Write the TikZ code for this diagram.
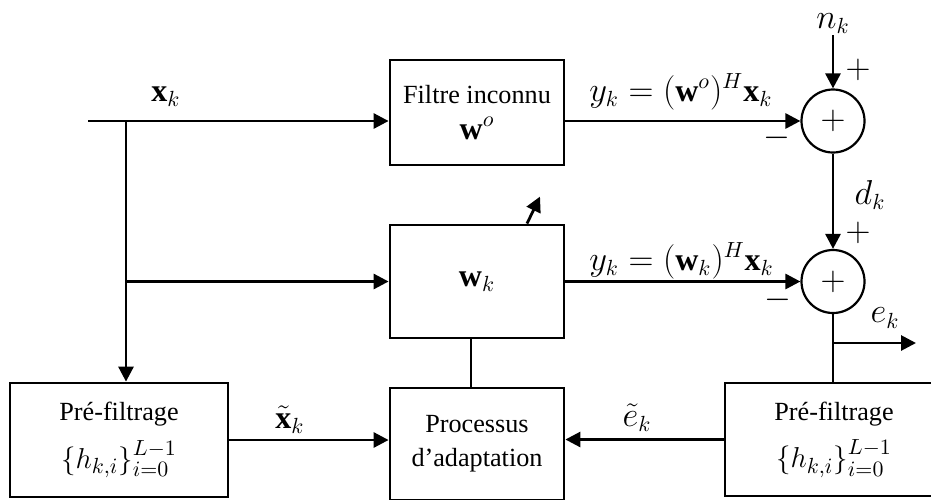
\documentclass[tikz,border=0pt]{standalone}
\usepackage{fontspec}
\setmainfont{Liberation Serif}
\usetikzlibrary{arrows.meta}
\begin{document}
\begin{tikzpicture}[x=0.5pt,y=-0.5pt,
  font=\fontsize{13.1}{15}\selectfont,
  line width=1.4pt,
  blk/.style={draw,rectangle,inner sep=0pt,align=center},
  sumnode/.style={draw,circle,line width=1.1pt,minimum size=31.5pt,inner sep=0pt,
    font=\fontsize{19}{20}\selectfont},
  arr/.style={-{Triangle[length=7.5pt,width=7.5pt]}},
  mlab/.style={font=\fontsize{16}{18}\selectfont,inner sep=0pt},
  sgn/.style={font=\fontsize{18}{20}\selectfont,inner sep=0pt}
]
\clip (0,0) rectangle (931,499);

% blocks
\node[blk,minimum width=87pt,minimum height=52.5pt] (F) at (477,112.5) {Filtre inconnu\\[3pt] {\fontsize{16}{18}\selectfont$\mathbf{w}^o$}};
\node[blk,minimum width=87pt,minimum height=56.5pt] (W) at (477,281.5) {\fontsize{16}{18}\selectfont$\mathbf{w}_k$};
\node[blk,minimum width=87pt,minimum height=56pt] (P) at (477,444) {Processus\\[2pt] d’adaptation};
\node[blk,minimum width=109pt,minimum height=57pt] (L) at (119,440) {Pré-filtrage\\[6pt] {\fontsize{15}{17}\selectfont$\bigl\{h_{k,i}\bigr\}_{i=0}^{L-1}$}};
\node[blk,minimum width=109pt,minimum height=56.5pt] (R) at (834,439.5) {Pré-filtrage\\[6pt] {\fontsize{15}{17}\selectfont$\bigl\{h_{k,i}\bigr\}_{i=0}^{L-1}$}};

% summing junctions
\node[sumnode] (S1) at (833,121) {$+$};
\node[sumnode] (S2) at (833,281.5) {$+$};

% auxiliary points
\coordinate (xin) at (88,121);
\coordinate (b1) at (126,121);
\coordinate (eb) at (833,343);
\coordinate (eout) at (916,343);
\node[mlab,anchor=south] (nk) at (833,35) {$n_k$};

% connectors
\draw[arr] (xin) -- (F.west |- xin);
\draw[arr] (b1) -- (b1 |- L.north);
\draw[arr] (b1 |- W.west) -- (W.west);
\draw[arr] (F.east |- S1.west) -- (S1.west);
\draw[arr] (W.east |- S2.west) -- (S2.west);
\draw[arr] (nk.south) -- (S1.north);
\draw[arr] (S1.south) -- (S2.north);
\draw (S2.south) -- (S2.south |- R.north);
\draw[arr] (eb) -- (eout);
\draw ([xshift=-3pt]W.south) -- ([xshift=-3pt]P.north);
\draw[arr] (L.east) -- (P.west |- L.east);
\draw[arr] (R.west) -- (P.east |- R.west);
\draw[arr] ([xshift=25pt]W.north) -- ++(13,-27);

% labels
\node[mlab] (lx) at (166,97) {$\mathbf{x}_k$};
\node[mlab,anchor=west] (ly1) at (588,92) {$y_k = (\mathbf{w}^o)^H\mathbf{x}_k$};
\node[mlab,anchor=west] (ly2) at (588,261) {$y_k = (\mathbf{w}_k)^H\mathbf{x}_k$};
\node[mlab] (ld) at (870,195) {$d_k$};
\node[mlab] (le) at (885,318) {$e_k$};
\node[mlab] (lxt) at (290,420) {$\tilde{\mathbf{x}}_k$};
\node[mlab] (let) at (637,418) {$\tilde{e}_k$};
\node[sgn] (p1) at (858,70) {$+$};
\node[sgn] (m1) at (777,138) {$-$};
\node[sgn] (p2) at (858,233) {$+$};
\node[sgn] (m2) at (778,300) {$-$};
\end{tikzpicture}
\end{document}
